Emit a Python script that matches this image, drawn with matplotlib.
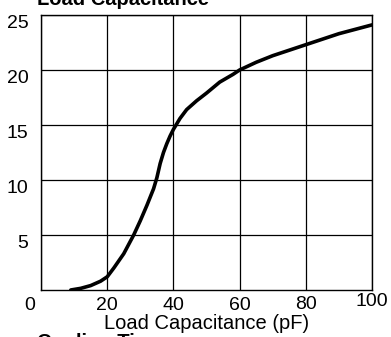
import matplotlib.pyplot as plt
from matplotlib.transforms import ScaledTranslation

# Cooling time vs load capacitance
cap_pf = [9, 12, 15, 18, 20, 22, 25, 28, 30, 32, 34, 35, 36, 37, 38, 39, 40,
          42, 44, 47, 50, 54, 58, 60, 65, 70, 75, 80, 85, 90, 95, 100]
value = [0, 0.15, 0.4, 0.8, 1.2, 2.0, 3.3, 5.0, 6.3, 7.7, 9.2, 10.2, 11.5,
         12.5, 13.3, 14.0, 14.6, 15.6, 16.4, 17.2, 17.9, 18.9, 19.6, 20.0,
         20.7, 21.3, 21.8, 22.3, 22.8, 23.3, 23.7, 24.1]
x_ticks = [0, 20, 40, 60, 80, 100]
y_ticks = [5, 10, 15, 20, 25]

plt.rcParams['font.family'] = ['Liberation Sans', 'DejaVu Sans']

fig = plt.figure(figsize=(3.91, 3.37), dpi=100)
ax = fig.add_axes([0.1049, 0.1395, 0.8465, 0.816])

ax.plot(cap_pf, value, color='black', linewidth=2.6,
        solid_capstyle='round', solid_joinstyle='round')

ax.set_xlim(0, 100)
ax.set_ylim(0, 25)
ax.set_xticks(x_ticks)
ax.set_xticklabels([str(t) for t in x_ticks])
ax.set_yticks(y_ticks)
ax.set_yticklabels([str(t) for t in y_ticks])
ax.tick_params(length=0, labelsize=14, colors='black')
ax.tick_params(axis='x', pad=5)
ax.tick_params(axis='y', pad=9)
ax.grid(True, color='black', linewidth=0.9)
for sp in ax.spines.values():
    sp.set_color('black')
    sp.set_linewidth(1.0)

# nudge tick labels a little like the printed figure
def shift(lbl, dx, dy):
    lbl.set_transform(lbl.get_transform() + ScaledTranslation(dx / 72, dy / 72, fig.dpi_scale_trans))

for lbl in ax.get_yticklabels():
    shift(lbl, 0, -5)
xlbls = ax.get_xticklabels()
shift(xlbls[0], -8, 0)
shift(xlbls[4], 0, 1)
shift(xlbls[5], 0, 3)

ax.set_xlabel('Load Capacitance (pF)', fontsize=14.5, labelpad=0)

fig.text(0.095, 0.985, 'Load Capacitance', fontsize=14.5, fontweight='bold',
         va='baseline', ha='left')
fig.text(0.095, 0.012, 'Cooling Time', fontsize=14.5, fontweight='bold',
         va='top', ha='left')

plt.savefig('out.png', dpi=100)
